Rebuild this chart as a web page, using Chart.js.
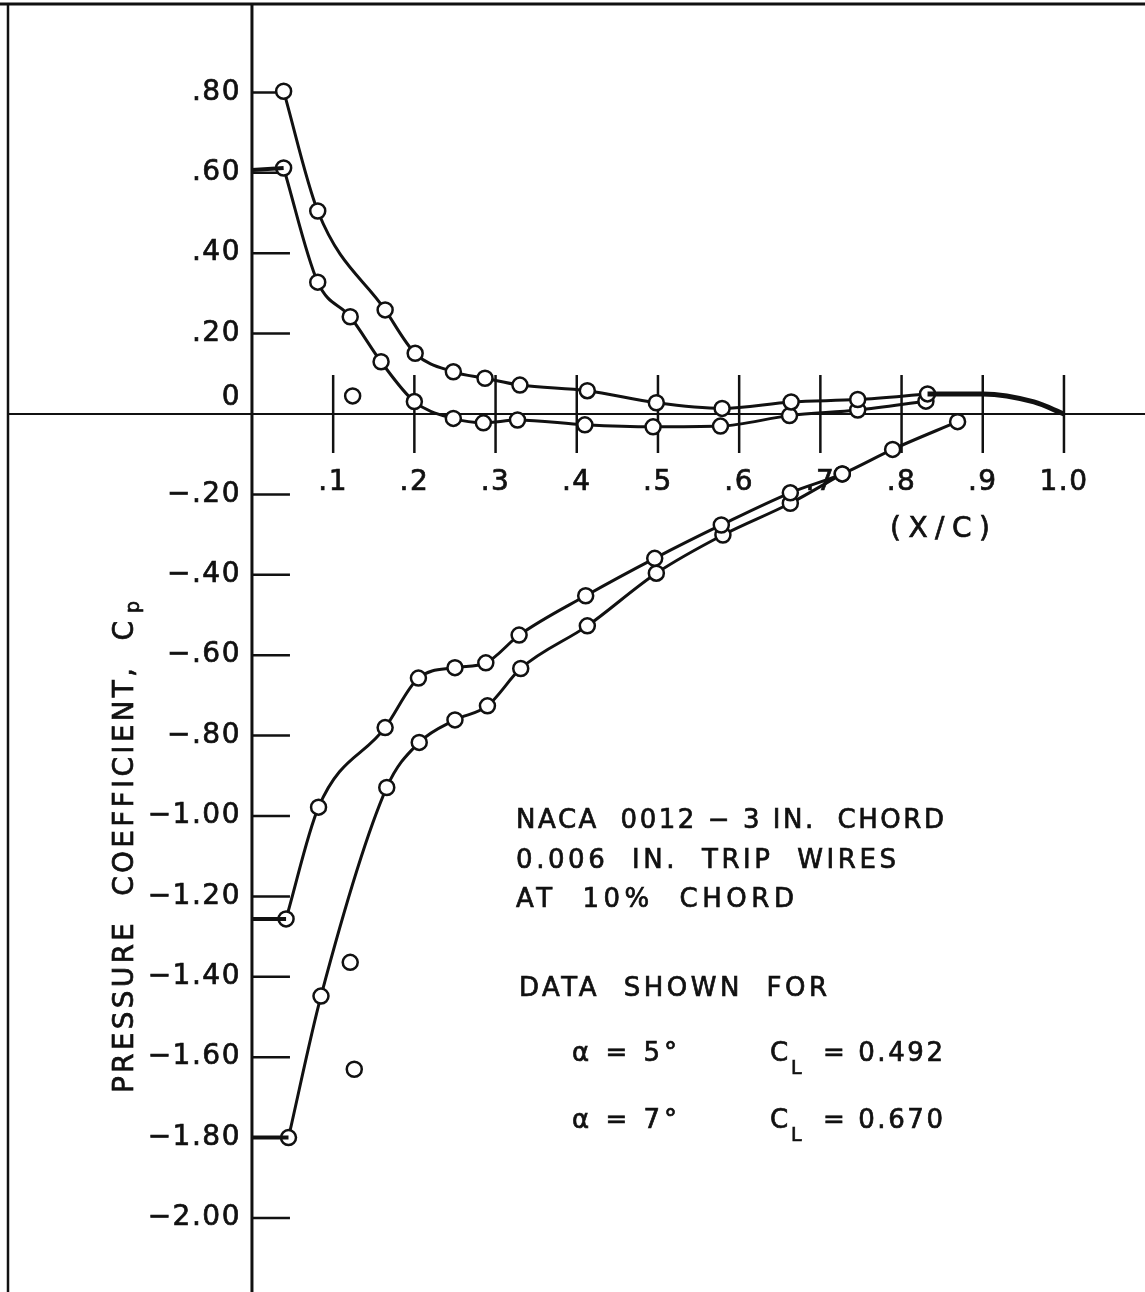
<!DOCTYPE html>
<html><head><meta charset="utf-8">
<script src="https://cdn.jsdelivr.net/npm/chart.js@4/dist/chart.umd.min.js"></script>
<style>html,body{margin:0;padding:0;background:#fff;overflow:hidden}canvas{display:block}</style>
</head><body>
<canvas id="c" width="1145" height="1292"></canvas>
<script>
// ---------- tick labels ----------
const xTickValues = [0.1, 0.2, 0.3, 0.4, 0.5, 0.6, 0.7, 0.8, 0.9, 1.0];
const xTickLabels = ['.1', '.2', '.3', '.4', '.5', '.6', '.7', '.8', '.9', '1.0'];
const yTickValues = [0.8, 0.6, 0.4, 0.2, 0, -0.2, -0.4, -0.6, -0.8, -1.0, -1.2, -1.4, -1.6, -1.8, -2.0];
const yTickLabels = ['.80', '.60', '.40', '.20', '0', '\u2212.20', '\u2212.40', '\u2212.60', '\u2212.80',
  '\u22121.00', '\u22121.20', '\u22121.40', '\u22121.60', '\u22121.80', '\u22122.00'];

// ---------- series (x/c, Cp) ----------
// alpha = 7 deg, lower (pressure) surface
const a7LowerX  = [0.039, 0.081, 0.164, 0.201, 0.248, 0.287, 0.330, 0.413, 0.498, 0.579, 0.664, 0.746, 0.832];
const a7LowerCp = [0.803, 0.505, 0.259, 0.151, 0.105, 0.089, 0.072, 0.058, 0.028, 0.014, 0.030, 0.036, 0.050];
// alpha = 5 deg, lower (pressure) surface
const a5LowerX  = [0.039, 0.081, 0.121, 0.159, 0.200, 0.248, 0.285, 0.327, 0.410, 0.494, 0.577, 0.662, 0.746, 0.830];
const a5LowerCp = [0.612, 0.328, 0.242, 0.130, 0.031, -0.011, -0.022, -0.015, -0.027, -0.032, -0.030, -0.004, 0.010, 0.032];
// faired trailing-edge curve
const teX  = [0.832, 0.900, 0.963, 1.000];
const teCp = [0.050, 0.050, 0.030, 0.000];
// alpha = 5 deg, upper (suction) surface
const a5UpperX  = [0.042, 0.082, 0.164, 0.205, 0.250, 0.288, 0.329, 0.411, 0.496, 0.578, 0.663, 0.727, 0.789, 0.869];
const a5UpperCp = [-1.256, -0.978, -0.780, -0.657, -0.631, -0.619, -0.550, -0.452, -0.359, -0.276, -0.196, -0.149, -0.088, -0.019];
// alpha = 7 deg, upper (suction) surface
const a7UpperX  = [0.045, 0.085, 0.166, 0.206, 0.250, 0.290, 0.331, 0.413, 0.498, 0.580, 0.663, 0.727];
const a7UpperCp = [-1.800, -1.448, -0.929, -0.817, -0.761, -0.726, -0.633, -0.527, -0.396, -0.301, -0.222, -0.149];
// leading-edge stubs (x/c = 0 to first orifice)
const stub5LowerX = [0, 0.039], stub5LowerCp = [0.607, 0.612];
const stub5UpperX = [0, 0.042], stub5UpperCp = [-1.256, -1.256];
const stub7UpperX = [0, 0.045], stub7UpperCp = [-1.800, -1.800];
// unconnected points near the trip wire
const isoX  = [0.124, 0.121, 0.126];
const isoCp = [0.045, -1.364, -1.630];

// ---------- axis ranges ----------
const xMin = -0.3103, xMax = 1.0998;
const yMin = -2.1841, yMax = 1.0299;

const INK = '#111';
const FONT = '"DejaVu Sans", "Liberation Sans", sans-serif';

function pts(xs, ys) { return xs.map((x, i) => ({ x: x, y: ys[i] })); }
function series(xs, ys, extra) {
  return Object.assign({
    data: pts(xs, ys), showLine: true, borderColor: INK, borderWidth: 3,
    pointRadius: 7.5, pointBorderWidth: 2.5, pointBackgroundColor: '#fff',
    pointBorderColor: INK, cubicInterpolationMode: 'monotone'
  }, extra || {});
}

// fill + thin stroke to imitate the heavier lettering of the original
function ink(ctx, text, x, y) {
  ctx.fillText(text, x, y);
  ctx.strokeText(text, x, y);
}
function drawFit(ctx, text, x, y, w) {
  ctx.letterSpacing = '0px';
  const m = ctx.measureText(text).width;
  const n = [...text].length;
  const ls = n > 1 ? (w - m) / (n - 1) : 0;
  ctx.letterSpacing = ls + 'px';
  ink(ctx, text, x, y);
  ctx.letterSpacing = '0px';
}

const framePlugin = {
  id: 'frame',
  beforeDatasetsDraw(chart) {
    const { ctx } = chart;
    const sx = chart.scales.x, sy = chart.scales.y;
    const X = v => sx.getPixelForValue(v), Y = v => sy.getPixelForValue(v);
    const W = chart.width, H = chart.height;
    ctx.save();
    ctx.strokeStyle = INK;
    const seg = (x1, y1, x2, y2, lw) => { ctx.lineWidth = lw; ctx.beginPath(); ctx.moveTo(x1, y1); ctx.lineTo(x2, y2); ctx.stroke(); };
    // outer frame (top and left)
    seg(0, 4, W, 4, 3);
    seg(8, 3, 8, H, 2.5);
    // y axis at x/c = 0, zero line
    seg(X(0), 3, X(0), H, 3);
    seg(8, Y(0), W, Y(0), 2);
    // y tick marks (to the right of the axis)
    yTickValues.forEach(v => { if (v !== 0) seg(X(0), Y(v), X(0) + 38, Y(v), 2.5); });
    // x tick marks crossing the zero line
    xTickValues.forEach(v => seg(X(v), Y(0) - 39, X(v), Y(0) + 39, 2.5));
    ctx.restore();
  },
  afterDraw(chart) {
    const { ctx } = chart;
    const sx = chart.scales.x, sy = chart.scales.y;
    const X = v => sx.getPixelForValue(v), Y = v => sy.getPixelForValue(v);
    ctx.save();
    ctx.fillStyle = INK;
    ctx.strokeStyle = INK;
    ctx.lineWidth = 0.7;
    ctx.font = '28px ' + FONT;
    // y tick labels
    ctx.textBaseline = 'middle';
    ctx.textAlign = 'right';
    ctx.letterSpacing = '1.5px';
    yTickValues.forEach((v, i) => {
      const yy = v === 0 ? Y(0) - 16 : Y(v);
      ink(ctx, yTickLabels[i], X(0) - 11, yy);
    });
    // x tick labels
    ctx.textBaseline = 'alphabetic';
    ctx.textAlign = 'center';
    xTickValues.forEach((v, i) => ink(ctx, xTickLabels[i], X(v), Y(0) + 76));
    ctx.letterSpacing = '0px';
    // x axis title
    ctx.textAlign = 'left';
    drawFit(ctx, '(X/C)', 890, Y(0) + 123, 100);
    // y axis title (rotated)
    ctx.save();
    ctx.translate(133, 1093);
    ctx.rotate(-Math.PI / 2);
    ctx.font = '28px ' + FONT;
    drawFit(ctx, 'PRESSURE  COEFFICIENT,  C', 0, 0, 472);
    ctx.font = '19px ' + FONT;
    ink(ctx, 'p', 480, 6);
    ctx.restore();
    // annotation block
    ctx.font = '26px ' + FONT;
    drawFit(ctx, 'NACA  0012 \u2212 3 IN.  CHORD', 516, 828, 428);
    drawFit(ctx, '0.006  IN.  TRIP  WIRES', 516, 868, 380);
    drawFit(ctx, 'AT  10%  CHORD', 516, 907, 278);
    drawFit(ctx, 'DATA  SHOWN  FOR', 519, 996, 308);
    const row = (alpha, cl, yb) => {
      ctx.font = '26px ' + FONT;
      drawFit(ctx, '\u03b1 = ' + alpha, 572, yb, 105);
      ink(ctx, 'C', 770, yb);
      ctx.font = '19px ' + FONT;
      ink(ctx, 'L', 791, yb + 13);
      ctx.font = '26px ' + FONT;
      drawFit(ctx, '= ' + cl, 823, yb, 120);
    };
    row('5\u00b0', '0.492', 1061);
    row('7\u00b0', '0.670', 1128);
    ctx.restore();
  }
};

new Chart(document.getElementById('c'), {
  type: 'scatter',
  data: {
    datasets: [
      series(stub5LowerX, stub5LowerCp, { pointRadius: 0, borderWidth: 4, cubicInterpolationMode: 'default', tension: 0 }),
      series(stub5UpperX, stub5UpperCp, { pointRadius: 0, borderWidth: 4, cubicInterpolationMode: 'default', tension: 0 }),
      series(stub7UpperX, stub7UpperCp, { pointRadius: 0, borderWidth: 4, cubicInterpolationMode: 'default', tension: 0 }),
      series(teX, teCp, { pointRadius: 0, borderWidth: 5 }),
      series(a7LowerX, a7LowerCp),
      series(a5LowerX, a5LowerCp),
      series(a5UpperX, a5UpperCp),
      series(a7UpperX, a7UpperCp),
      series(isoX, isoCp, { showLine: false })
    ]
  },
  options: {
    responsive: false,
    animation: false,
    devicePixelRatio: 1,
    layout: { padding: 0, autoPadding: false },
    plugins: { legend: { display: false }, tooltip: { enabled: false } },
    scales: {
      x: { type: 'linear', min: xMin, max: xMax, display: false },
      y: { type: 'linear', min: yMin, max: yMax, display: false }
    }
  },
  plugins: [framePlugin]
});
</script>
</body></html>
